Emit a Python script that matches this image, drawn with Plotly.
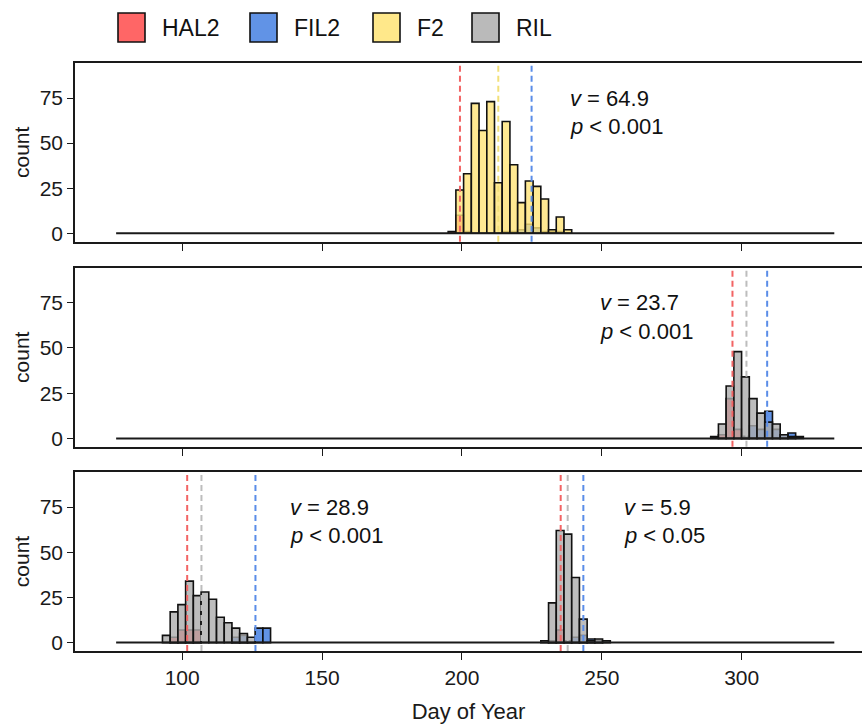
import plotly.graph_objects as go

# shared histogram grid (days)
bin_w = 2.76
bin_lo = 76.4
bin_hi = 333.1

groups = ["HAL2", "FIL2", "F2", "RIL"]
fills = {"HAL2": "rgba(255,64,64,0.8)", "FIL2": "rgba(58,120,224,0.8)",
         "F2": "rgba(255,228,120,0.8)", "RIL": "rgba(172,172,172,0.8)"}
keyfills = {"HAL2": "#FF6666", "FIL2": "#6193E6", "F2": "#FFE88A", "RIL": "#BABABA"}
lines = {"HAL2": "#F26464", "FIL2": "#5A8DE8", "F2": "#F2E07A", "RIL": "#BDBDBD"}

# panel 1 (top): HAL2 x FIL2 F2
p1_hal2_start, p1_hal2 = 195.08, [1, 10, 1]
p1_fil2_start, p1_fil2 = 214.40, [1, 1, 2, 5, 3, 1, 1, 1]
p1_f2_start, p1_f2 = 197.84, [24, 33, 72, 57, 73, 28, 62, 38, 17, 29, 26, 19, 2, 9, 2]

# panel 2 (middle): RIL
p2_hal2_start, p2_hal2 = 291.68, [2, 22, 5, 1]
p2_fil2_start, p2_fil2 = 299.96, [1, 7, 5, 15, 5, 2, 3, 1]
p2_ril_start, p2_ril = 288.92, [1, 8, 29, 48, 34, 22, 14, 9, 8, 2, 1]

# panel 3 (bottom): two RIL clusters
p3a_hal2_start, p3a_hal2 = 95.72, [3, 7, 7, 7]
p3a_fil2_start, p3a_fil2 = 117.80, [3, 4, 0, 8, 8]
p3a_ril_start, p3a_ril = 92.96, [4, 17, 21, 34, 26, 28, 24, 14, 11, 8, 5, 3]
p3b_hal2_start, p3b_hal2 = 230.96, [1, 7, 1]
p3b_fil2_start, p3b_fil2 = 239.24, [3, 4, 2, 1]
p3b_ril_start, p3b_ril = 228.20, [1, 22, 62, 60, 36, 13, 1, 2, 1]

# group means (dashed lines)
p1_means = {"HAL2": 199.3, "F2": 213.0, "FIL2": 224.9}
p2_means = {"HAL2": 296.7, "RIL": 301.7, "FIL2": 309.1}
p3a_means = {"HAL2": 101.8, "RIL": 106.9, "FIL2": 126.2}
p3b_means = {"HAL2": 235.3, "RIL": 237.8, "FIL2": 243.4}

# test statistics: (panel, x, v, p)
stats = [
    (1, 237.9, "64.9", "&lt; 0.001"),
    (2, 248.6, "23.7", "&lt; 0.001"),
    (3, 137.8, "28.9", "&lt; 0.001"),
    (3, 257.2, "5.9", "&lt; 0.05"),
]

x_ticks = [100, 150, 200, 250, 300]
y_ticks = [0, 25, 50, 75]

FONT = "Liberation Sans, Arial, Helvetica, sans-serif"
W, H = 862, 724
L, T, B = 75, 63, 73
PW, PH = W - L, H - T - B


def pxx(px):
    return (px - L) / PW


def pxy(py):
    return (H - B - py) / PH


def centers(start, counts):
    return [start + bin_w * (i + 0.5) for i in range(len(counts))]


panels = {
    1: [("HAL2", p1_hal2_start, p1_hal2), ("FIL2", p1_fil2_start, p1_fil2), ("F2", p1_f2_start, p1_f2)],
    2: [("HAL2", p2_hal2_start, p2_hal2), ("FIL2", p2_fil2_start, p2_fil2), ("RIL", p2_ril_start, p2_ril)],
    3: [("HAL2", p3a_hal2_start, p3a_hal2), ("FIL2", p3a_fil2_start, p3a_fil2), ("RIL", p3a_ril_start, p3a_ril),
        ("HAL2", p3b_hal2_start, p3b_hal2), ("FIL2", p3b_fil2_start, p3b_fil2), ("RIL", p3b_ril_start, p3b_ril)],
}
panel_means = {1: [p1_means], 2: [p2_means], 3: [p3a_means, p3b_means]}

fig = go.Figure()
for i in (1, 2, 3):
    xa, ya = ("x", "y") if i == 1 else ("x%d" % i, "y%d" % i)
    fig.add_trace(go.Scatter(x=[bin_lo, bin_hi], y=[0, 0], mode="lines",
                             line=dict(color="#1a1a1a", width=2),
                             xaxis=xa, yaxis=ya, showlegend=False, hoverinfo="skip"))
    # draw parents first, then F2/RIL on top
    order = sorted(panels[i], key=lambda s: groups.index(s[0]) if s[0] != "FIL2" else 0.5)
    for g, start, counts in order:
        fig.add_trace(go.Bar(x=centers(start, counts), y=counts, width=bin_w,
                             marker=dict(color=fills[g], line=dict(color="#111111", width=1.6)),
                             xaxis=xa, yaxis=ya, showlegend=False, name=g))

# panel pixel boxes (top, bottom)
boxes = {1: (63.0, 241.7), 2: (267.7, 446.8), 3: (472.0, 651.0)}
layout = dict(
    width=W, height=H, margin=dict(l=L, r=0, t=T, b=B, autoexpand=False),
    plot_bgcolor="white", paper_bgcolor="white", barmode="overlay",
    font=dict(family=FONT, color="#1a1a1a", size=21),
    showlegend=False,
)
for i in (1, 2, 3):
    top, bot = boxes[i]
    sx = "" if i == 1 else str(i)
    layout["xaxis" + sx] = dict(
        domain=[0, 1], anchor="y" + sx, range=[61.7, 343.0], automargin=False,
        tickvals=x_ticks, ticks="outside", ticklen=7, tickwidth=1.2, tickcolor="#1a1a1a",
        showline=True, linecolor="#1a1a1a", linewidth=1.6, mirror=True,
        showgrid=False, zeroline=False, showticklabels=(i == 3),
        tickfont=dict(size=21),
        **({"title": dict(text="Day of Year", font=dict(size=22), standoff=16)} if i == 3 else {}),
        **({} if i == 1 else {"matches": "x"}),
    )
    layout["yaxis" + sx] = dict(
        domain=[max(0.0, pxy(bot)), min(1.0, pxy(top))], anchor="x" + sx, range=[-4.65, 94.4],
        automargin=False,
        tickvals=y_ticks, ticks="outside", ticklen=6, tickwidth=1.2, tickcolor="#1a1a1a",
        showline=True, linecolor="#1a1a1a", linewidth=1.6, mirror=False,
        showgrid=False, zeroline=False, tickfont=dict(size=21),
        title=dict(text="count", font=dict(size=21), standoff=4),
    )
fig.update_layout(**layout)

shapes = []
for i in (1, 2, 3):
    sx = "" if i == 1 else str(i)
    for means in panel_means[i]:
        for g, m in means.items():
            shapes.append(dict(type="line", xref="x" + sx, yref="y" + sx + " domain",
                               x0=m, x1=m, y0=0, y1=1, layer="above",
                               line=dict(color=lines[g], width=2, dash="6px,4px")))

annotations = []
for panel, x, v, p in stats:
    sx = "" if panel == 1 else str(panel)
    annotations.append(dict(xref="x" + sx, yref="y" + sx, x=x, y=75, xanchor="left", yanchor="middle",
                            text="<i>v</i> = " + v, showarrow=False, font=dict(size=22, color="#111111")))
    annotations.append(dict(xref="x" + sx, yref="y" + sx, x=x, y=59, xanchor="left", yanchor="middle",
                            text="<i>p</i> " + p, showarrow=False, font=dict(size=22, color="#111111")))

# legend drawn as keys + labels
key_left = [118, 250, 373, 472]
for g, kx in zip(groups, key_left):
    shapes.append(dict(type="rect", xref="paper", yref="paper",
                       x0=pxx(kx), x1=pxx(kx + 27), y0=pxy(42), y1=pxy(13),
                       fillcolor=keyfills[g], line=dict(color="#111111", width=1.6)))
    annotations.append(dict(xref="paper", yref="paper", x=pxx(kx + 42), y=pxy(28),
                            xanchor="left", yanchor="middle", text=g, showarrow=False,
                            font=dict(size=23, color="#111111")))

fig.update_layout(shapes=shapes, annotations=annotations)
# page body has an 8px default margin; drop it so the figure fills the window
fig.write_html("out.html", config={"displayModeBar": False},
               post_script="document.body.style.margin='0';document.body.style.overflow='hidden';")
